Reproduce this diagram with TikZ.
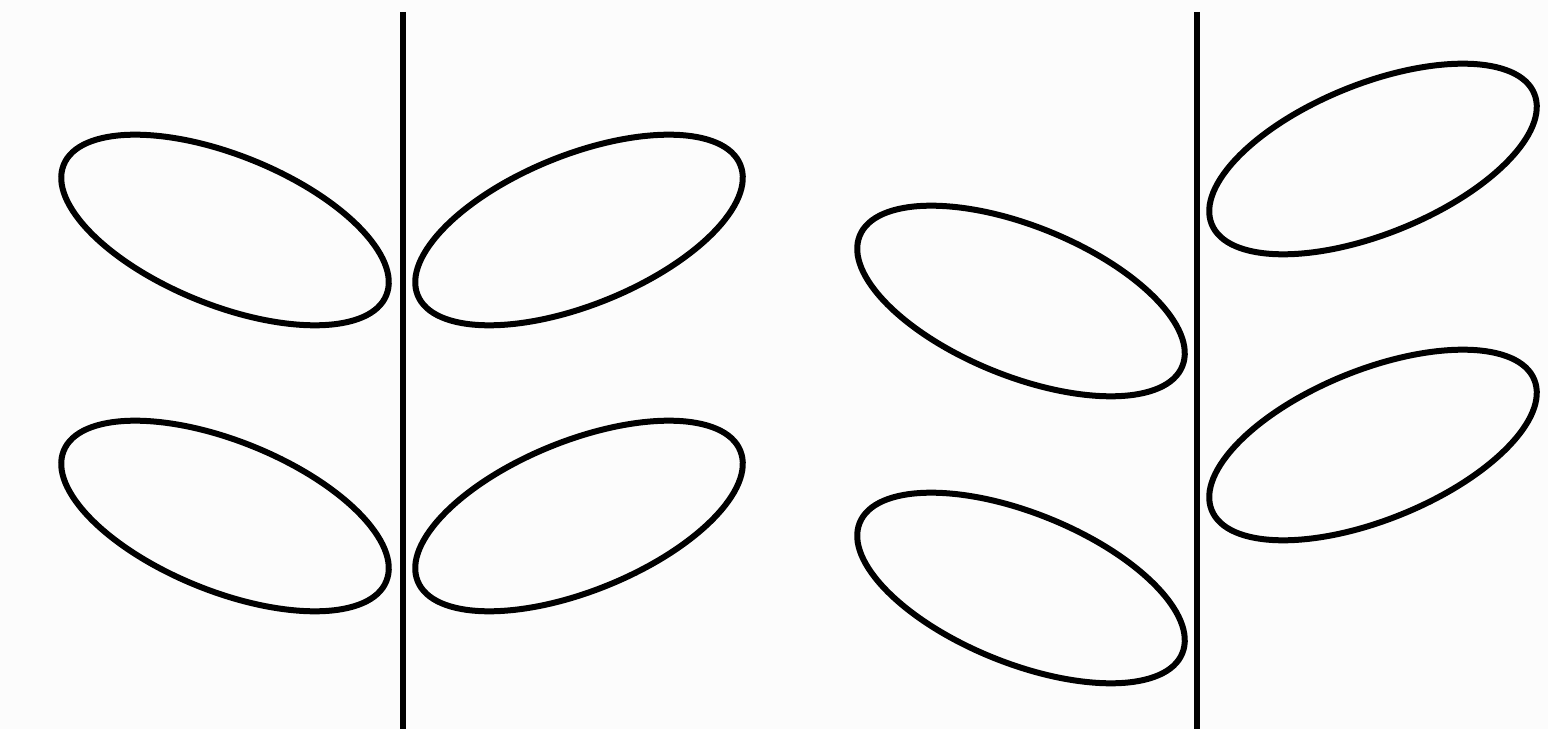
\documentclass[tikz,border=0pt]{standalone}
\begin{document}
\begin{tikzpicture}[x=1pt,y=1pt,
  stem/.style={line width=5.5pt,black},
  leaf/.style={line width=6pt,black}]
\definecolor{bg}{RGB}{252,252,252}
\fill[bg] (0,0) rectangle (1548,729);
\useasboundingbox (0,0) rectangle (1548,729);
% stems
\coordinate (s1t) at (403,717); \coordinate (s1b) at (403,0);
\coordinate (s2t) at (1197,717); \coordinate (s2b) at (1197,0);
\draw[stem] (s1t) -- (s1b);
\draw[stem] (s2t) -- (s2b);
% opposite leaves
\draw[leaf, rotate around={-22:(225,499)}] (225,499) ellipse [x radius=174, y radius=75];
\draw[leaf, rotate around={22:(579,499)}] (579,499) ellipse [x radius=174, y radius=75];
\draw[leaf, rotate around={-22:(225,213)}] (225,213) ellipse [x radius=174, y radius=75];
\draw[leaf, rotate around={22:(579,213)}] (579,213) ellipse [x radius=174, y radius=75];
% alternate leaves
\draw[leaf, rotate around={-22:(1021,428)}] (1021,428) ellipse [x radius=174, y radius=75];
\draw[leaf, rotate around={-22:(1021,141)}] (1021,141) ellipse [x radius=174, y radius=75];
\draw[leaf, rotate around={22:(1373,570)}] (1373,570) ellipse [x radius=174, y radius=75];
\draw[leaf, rotate around={22:(1373,284)}] (1373,284) ellipse [x radius=174, y radius=75];
\end{tikzpicture}
\end{document}
